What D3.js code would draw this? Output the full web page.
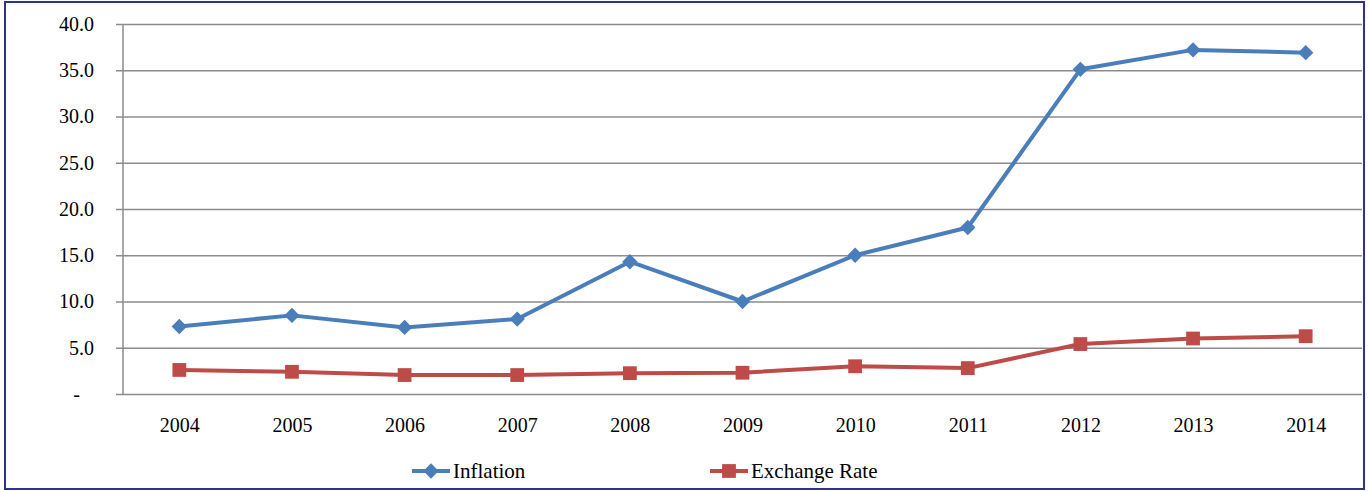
<!DOCTYPE html>
<html>
<head>
<meta charset="utf-8">
<script src="https://cdn.jsdelivr.net/npm/d3@7"></script>
<style>
  html, body { margin: 0; padding: 0; background: #fff; }
  svg { display: block; }
  svg text { font-family: "Liberation Serif", "DejaVu Serif", serif !important; fill: #000; }
</style>
</head>
<body>
<svg id="chart" width="1369" height="491"></svg>
<script>
const years = ["2004", "2005", "2006", "2007", "2008", "2009", "2010", "2011", "2012", "2013", "2014"];
const inflation = [7.3, 8.5, 7.2, 8.1, 14.3, 10.0, 15.0, 18.0, 35.1, 37.2, 36.9];
const exchangeRate = [2.6, 2.4, 2.05, 2.05, 2.25, 2.3, 3.0, 2.8, 5.4, 6.0, 6.25];
const yTicks = [0, 5, 10, 15, 20, 25, 30, 35, 40];
const yTickLabels = ["-", "5.0", "10.0", "15.0", "20.0", "25.0", "30.0", "35.0", "40.0"];
const seriesNames = ["Inflation", "Exchange Rate"];
const seriesColors = ["#4A7EBB", "#BE4B48"];

const svg = d3.select("#chart");
const W = 1369, H = 491;
const plot = { left: 123, right: 1362, top: 24, bottom: 394 };

// outer frame
svg.append("rect")
  .attr("x", 5).attr("y", 2)
  .attr("width", W - 10).attr("height", H - 4)
  .attr("fill", "#fff")
  .attr("stroke", "#2E3192").attr("stroke-width", 2);

const x = d3.scalePoint().domain(years).range([plot.left, plot.right]).padding(0.5);
const y = d3.scaleLinear().domain([0, 40]).range([plot.bottom, plot.top]);

// horizontal gridlines with left tick stubs
const yAxis = d3.axisLeft(y)
  .tickValues(yTicks)
  .tickSize(-(plot.right - plot.left))
  .tickFormat((d, i) => yTickLabels[i]);
const gy = svg.append("g").attr("transform", `translate(${plot.left},0)`).call(yAxis);
gy.attr("font-family", null).attr("font-size", null);
gy.select(".domain").remove();
gy.selectAll(".tick line").attr("stroke", "#8C8C8C").attr("stroke-width", 1.5).attr("x1", -7);
gy.selectAll(".tick text")
  .attr("x", d => d === 0 ? -43 : -29)
  .style("font-size", "20px");

// vertical axis line
svg.append("line")
  .attr("x1", plot.left).attr("x2", plot.left)
  .attr("y1", plot.top).attr("y2", plot.bottom)
  .attr("stroke", "#8C8C8C").attr("stroke-width", 1.5);

// x axis labels
const xAxis = d3.axisBottom(x).tickSize(0).tickPadding(24);
const gx = svg.append("g").attr("transform", `translate(0,${plot.bottom})`).call(xAxis);
gx.attr("font-family", null).attr("font-size", null);
gx.select(".domain").remove();
gx.selectAll(".tick text").style("font-size", "20px");

const line = d3.line().x((d, i) => x(years[i])).y(d => y(d));
const diamond = d3.symbol().type(d3.symbolDiamond2).size(150);
const square = d3.symbol().type(d3.symbolSquare).size(190);

function drawSeries(values, color, sym) {
  svg.append("path")
    .datum(values)
    .attr("d", line)
    .attr("fill", "none")
    .attr("stroke", color)
    .attr("stroke-width", 4)
    .attr("stroke-linejoin", "round");
  svg.append("g").selectAll("path")
    .data(values)
    .join("path")
    .attr("d", sym)
    .attr("transform", (d, i) => `translate(${x(years[i])},${y(d)})`)
    .attr("fill", color);
}
drawSeries(inflation, seriesColors[0], diamond);
drawSeries(exchangeRate, seriesColors[1], square);

// legend
const legendY = 471;
const legendItems = [
  { name: seriesNames[0], color: seriesColors[0], sym: diamond, x: 412 },
  { name: seriesNames[1], color: seriesColors[1], sym: square, x: 710 }
];
const lg = svg.append("g");
legendItems.forEach(it => {
  lg.append("line")
    .attr("x1", it.x).attr("x2", it.x + 38)
    .attr("y1", legendY).attr("y2", legendY)
    .attr("stroke", it.color).attr("stroke-width", 4);
  lg.append("path")
    .attr("d", it.sym)
    .attr("transform", `translate(${it.x + 19},${legendY})`)
    .attr("fill", it.color);
  lg.append("text")
    .attr("x", it.x + 41).attr("y", legendY)
    .attr("dy", "0.35em")
    .style("font-size", "21px")
    .text(it.name);
});
</script>
</body>
</html>
